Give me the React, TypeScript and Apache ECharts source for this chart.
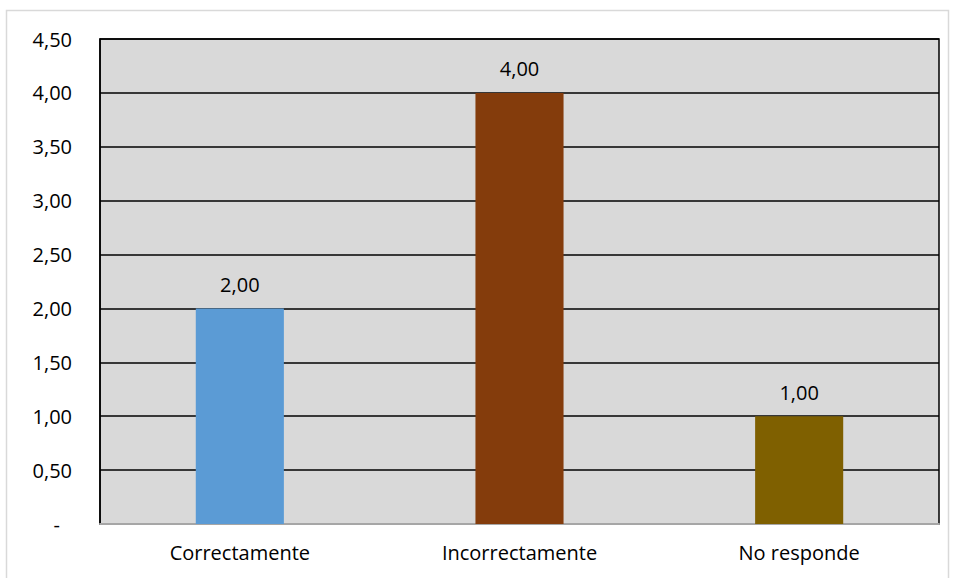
import React, { useEffect, useRef } from "react";
import * as echarts from "echarts";

const categories = ["Correctamente", "Incorrectamente", "No responde"];
const values = [2, 4, 1];
const barColors = ["#5B9BD5", "#843C0C", "#7F6000"];
const yMin = 0;
const yMax = 4.5;
const yInterval = 0.5;

const fmt = (v: number) => (v === 0 ? "-" : v.toFixed(2).replace(".", ","));

export default function App() {
  const ref = useRef<HTMLDivElement>(null);
  useEffect(() => {
    if (!ref.current) return;
    const chart = echarts.init(ref.current, null, { renderer: "svg" });
    const font = "Open Sans, Noto Sans, sans-serif";
    const fs = 20;
    chart.setOption({
      animation: false,
      backgroundColor: "#ffffff",
      textStyle: { fontFamily: font },
      graphic: [
        {
          type: "rect",
          shape: { x: 6.5, y: 10.5, width: 942, height: 580 },
          style: { fill: "none", stroke: "#d9d9d9", lineWidth: 1.5 },
          silent: true,
        },
      ],
      grid: {
        left: 100,
        top: 39,
        right: 16,
        bottom: 54,
        show: true,
        backgroundColor: "#D9D9D9",
        borderColor: "#000000",
        borderWidth: 1.5,
      },
      xAxis: {
        type: "category",
        data: categories,
        axisLine: { show: true, lineStyle: { color: "#a6a6a6", width: 2 } },
        axisTick: { show: false },
        axisLabel: { color: "#000", fontSize: fs, margin: 18, fontFamily: font },
      },
      yAxis: {
        type: "value",
        min: yMin,
        max: yMax,
        interval: yInterval,
        axisLine: { show: true, lineStyle: { color: "#000", width: 1.5 } },
        axisTick: { show: false },
        splitLine: { show: true, lineStyle: { color: "#000", width: 1.5 } },
        axisLabel: {
          color: "#000",
          fontSize: fs,
          margin: 28,
          fontFamily: font,
          formatter: (v: number) => (v === 0 ? "{d|-}" : fmt(v)),
          rich: {
            d: { color: "#000", fontSize: fs, fontFamily: font, padding: [0, 12, 0, 0] },
          },
        },
      },
      series: [
        {
          type: "bar",
          data: values.map((v, i) => ({ value: v, itemStyle: { color: barColors[i] } })),
          barWidth: "31.5%",
          label: {
            show: true,
            position: "top",
            distance: 14,
            color: "#000",
            fontSize: fs,
            fontFamily: font,
            formatter: (p: any) => fmt(p.value),
          },
        },
      ],
    });
    return () => chart.dispose();
  }, []);
  return (
    <div
      ref={ref}
      style={{ position: "fixed", left: 0, top: 0, width: 955, height: 578 }}
    />
  );
}
